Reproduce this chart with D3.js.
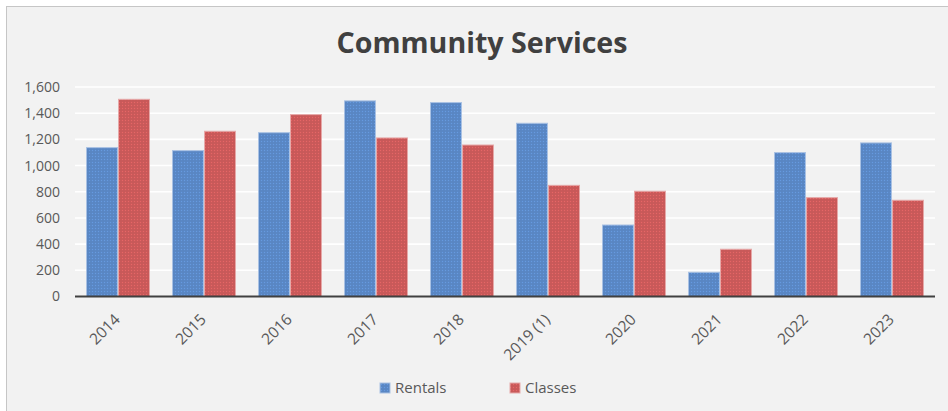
<!DOCTYPE html>
<html>
<head>
<meta charset="utf-8">
<script src="https://cdn.jsdelivr.net/npm/d3@7"></script>
<style>
  html, body { margin: 0; padding: 0; background: #ffffff; }
  svg { display: block; }
  text { font-family: "Open Sans", "Noto Sans", sans-serif; }
</style>
</head>
<body>
<svg id="chart" width="948" height="411"></svg>
<script>
// Community Services: rentals and classes per year
const years = ["2014", "2015", "2016", "2017", "2018", "2019 (1)", "2020", "2021", "2022", "2023"];
const rentals = [1137, 1114, 1251, 1494, 1481, 1323, 546, 185, 1099, 1173];
const classes = [1506, 1262, 1389, 1211, 1157, 849, 804, 361, 755, 735];
const seriesNames = ["Rentals", "Classes"];
const yTicks = [0, 200, 400, 600, 800, 1000, 1200, 1400, 1600];

const W = 948, H = 411;
const margin = { top: 87, right: 13, bottom: 114.5, left: 75 };
const colors = { Rentals: "#5a88c6", Classes: "#cb5a5a" };
const edges = { Rentals: "#a9c1e3", Classes: "#e6a9a9" };

const svg = d3.select("#chart");

// chart area frame
svg.append("rect")
  .attr("x", 6.5).attr("y", 6.5)
  .attr("width", W + 10).attr("height", H + 10)
  .attr("fill", "#f2f2f2")
  .attr("stroke", "#c6c6c6").attr("stroke-width", 1);

// fine dotted texture for the bar fills
const defs = svg.append("defs");
seriesNames.forEach(name => {
  const p = defs.append("pattern")
    .attr("id", "tex-" + name)
    .attr("width", 3).attr("height", 3)
    .attr("patternUnits", "userSpaceOnUse");
  p.append("rect").attr("width", 3).attr("height", 3).attr("fill", colors[name]);
  p.append("rect").attr("x", 0).attr("y", 0).attr("width", 1).attr("height", 1)
    .attr("fill", d3.color(colors[name]).brighter(0.35));
  p.append("rect").attr("x", 1.5).attr("y", 1.5).attr("width", 1).attr("height", 1)
    .attr("fill", d3.color(colors[name]).darker(0.15));
});

const innerW = W - margin.left - margin.right;
const innerH = H - margin.top - margin.bottom;

const x0 = d3.scaleBand().domain(years).range([0, innerW]).paddingInner(0.256).paddingOuter(0.128);
const x1 = d3.scaleBand().domain(seriesNames).range([0, x0.bandwidth()]);
const y = d3.scaleLinear().domain([0, 1600]).range([innerH, 0]);

const g = svg.append("g").attr("transform", `translate(${margin.left},${margin.top})`);

// horizontal gridlines
g.append("g")
  .selectAll("line")
  .data(yTicks.filter(t => t > 0))
  .join("line")
  .attr("x1", 0).attr("x2", innerW)
  .attr("y1", d => y(d)).attr("y2", d => y(d))
  .attr("stroke", "#ffffff").attr("stroke-width", 1.6);

// y axis labels
const yAxis = d3.axisLeft(y).tickValues(yTicks).tickSize(0).tickPadding(15)
  .tickFormat(d3.format(","));
g.append("g").call(yAxis)
  .call(a => a.select(".domain").remove())
  .selectAll("text")
  .attr("fill", "#595959").style("font-size", "14px");

// bars
const rows = years.map((yr, i) => ({ year: yr, Rentals: rentals[i], Classes: classes[i] }));
g.append("g")
  .selectAll("g")
  .data(rows)
  .join("g")
  .attr("transform", d => `translate(${x0(d.year)},0)`)
  .selectAll("rect")
  .data(d => seriesNames.map(k => ({ key: k, value: d[k] })))
  .join("rect")
  .attr("x", d => x1(d.key) + 0.5)
  .attr("width", x1.bandwidth() - 1)
  .attr("y", d => y(d.value))
  .attr("height", d => innerH - y(d.value))
  .attr("fill", d => `url(#tex-${d.key})`)
  .attr("stroke", d => edges[d.key]).attr("stroke-width", 1);

// x axis
const xAxis = d3.axisBottom(x0).tickSize(0).tickPadding(0);
const xg = g.append("g").attr("transform", `translate(0,${innerH})`).call(xAxis);
xg.select(".domain").remove();
xg.selectAll("text")
  .attr("fill", "#595959").style("font-size", "15.5px")
  .attr("text-anchor", "end")
  .attr("dy", null)
  .attr("transform", "translate(3,24) rotate(-45)");

g.append("line")
  .attr("x1", 0).attr("x2", innerW)
  .attr("y1", innerH).attr("y2", innerH)
  .attr("stroke", "#404040").attr("stroke-width", 2.2);

// title
svg.append("text")
  .attr("x", 482).attr("y", 53)
  .attr("text-anchor", "middle")
  .attr("fill", "#404040")
  .style("font-size", "28.6px").style("font-weight", "bold")
  .text("Community Services");

// legend
const legendX = [380, 510];
const legend = svg.append("g");
seriesNames.forEach((name, i) => {
  legend.append("rect")
    .attr("x", legendX[i]).attr("y", 383)
    .attr("width", 10).attr("height", 10)
    .attr("fill", `url(#tex-${name})`)
    .attr("stroke", edges[name]).attr("stroke-width", 1);
  legend.append("text")
    .attr("x", legendX[i] + 15).attr("y", 393)
    .attr("fill", "#595959").style("font-size", "15px")
    .text(name);
});
</script>
</body>
</html>
